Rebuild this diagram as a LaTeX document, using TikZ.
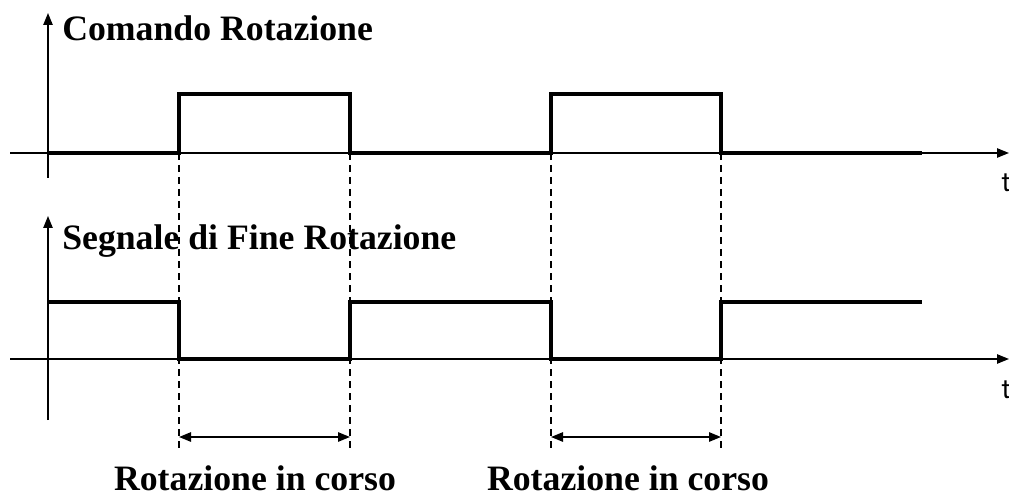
\documentclass[tikz,border=0pt]{standalone}
\usepackage{fontspec}
\setmainfont{Liberation Serif}
\usepackage{tikz}
\usetikzlibrary{arrows.meta}

\tikzset{
  axis/.style={line width=1.1pt, -{Triangle[length=9pt,width=7pt]}},
  wave/.style={line width=2.6pt, line join=miter},
  guide/.style={line width=0.8pt, dashed, dash pattern=on 5pt off 4pt},
  span/.style={line width=1.3pt, {Triangle[length=9pt,width=7pt]}-{Triangle[length=9pt,width=7pt]}},
  title/.style={font=\fontsize{26.8}{30}\selectfont\bfseries, anchor=west, inner sep=0pt},
  tlabel/.style={font=\fontsize{24}{26}\selectfont\sffamily, anchor=west, inner sep=0pt}
}

\begin{document}
\begin{tikzpicture}[x=0.75pt, y=-0.75pt]
    \useasboundingbox (0,0) rectangle (1009,502);
    % axes
    \coordinate (o1) at (48, 178);
    \coordinate (y1) at (48, 13);
    \coordinate (a1) at (10, 153);
    \coordinate (b1) at (1009, 153);
    \coordinate (o2) at (48, 420);
    \coordinate (y2) at (48, 216);
    \coordinate (a2) at (10, 359);
    \coordinate (b2) at (1009, 359);
    \node[title] (c) at (62, 28) {Comando Rotazione};
    \node[title] (s) at (62, 241) {Segnale di Fine Rotazione};
    \node[tlabel] (t1) at (1001, 183) {t};
    \node[tlabel] (t2) at (1001, 390) {t};
    \node[title, anchor=center] (r1) at (255, 478) {Rotazione in corso};
    \node[title, anchor=center] (r2) at (628, 478) {Rotazione in corso};
    \draw [axis] (o1) to (y1);
    \draw [axis] (a1) to (b1);
    \draw [axis] (o2) to (y2);
    \draw [axis] (a2) to (b2);
    % edges of the two rotations
    \foreach \x/\n in {179/p, 350/q, 551/u, 721/v} {
      \coordinate (\n) at (\x, 437);
      \draw [guide] (\x, 153) -- (\x, 452);
    }
    % signals
    \draw [wave] (48,153) -- (179,153) -- (179,94) -- (350,94) -- (350,153)
      -- (551,153) -- (551,94) -- (721,94) -- (721,153) -- (922,153);
    \draw [wave] (48,302) -- (179,302) -- (179,359) -- (350,359) -- (350,302)
      -- (551,302) -- (551,359) -- (721,359) -- (721,302) -- (922,302);
    \draw [span] (p) to (q);
    \draw [span] (u) to (v);
  \end{tikzpicture}
\end{document}
